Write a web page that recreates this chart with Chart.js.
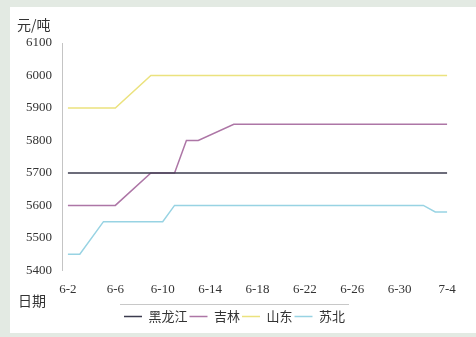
<!DOCTYPE html>
<html>
<head>
<meta charset="utf-8">
<script src="https://cdn.jsdelivr.net/npm/chart.js@4"></script>
<style>
  html, body { margin: 0; padding: 0; background: #e3eae3; }
  #wrap { position: absolute; left: 10px; top: 7px; width: 466px; height: 326px; background: #fff; }
</style>
</head>
<body>
<div id="wrap"><canvas id="price-chart" width="466" height="326"></canvas></div>
<script>
// daily dates, 6-2 .. 7-4
const dates = ['6-2','6-3','6-4','6-5','6-6','6-7','6-8','6-9','6-10','6-11','6-12','6-13','6-14','6-15','6-16','6-17',
    '6-18','6-19','6-20','6-21','6-22','6-23','6-24','6-25','6-26','6-27','6-28','6-29','6-30','7-1','7-2','7-3','7-4'];

// prices (元/吨), null = no quote that day
const heilongjiang = [5700,5700,5700,5700,5700,5700,5700,5700,5700,5700,5700,5700,5700,5700,5700,5700,
    5700,5700,5700,5700,5700,5700,5700,5700,5700,5700,5700,5700,5700,5700,5700,5700,5700];
const jilin = [5600,5600,5600,5600,5600,null,null,5700,5700,5700,5800,5800,null,null,5850,5850,
    5850,5850,5850,5850,5850,5850,5850,5850,5850,5850,5850,5850,5850,5850,5850,5850,5850];
const shandong = [5900,5900,5900,5900,5900,null,null,6000,6000,6000,6000,6000,6000,6000,6000,6000,
    6000,6000,6000,6000,6000,6000,6000,6000,6000,6000,6000,6000,6000,6000,6000,6000,6000];
const subei = [5450,5450,null,5550,5550,5550,5550,5550,5550,5600,5600,5600,5600,5600,5600,5600,
    5600,5600,5600,5600,5600,5600,5600,5600,5600,5600,5600,5600,5600,5600,5600,5580,5580];

const seriesNames = ['黑龙江', '吉林', '山东', '苏北'];
const seriesColors = ['#3b3b4e', '#ad76a6', '#ebe27e', '#98d3e3'];
const seriesData = [heilongjiang, jilin, shandong, subei];

const serif = '"Liberation Serif", "DejaVu Serif", serif';
const cjk = '"Noto Sans CJK SC", sans-serif';

// unit label above the value axis, "日期" under it, and a rule over the legend
const axisNotes = {
    id: 'axisNotes',
    afterDraw(chart) {
        const ctx = chart.ctx;
        const area = chart.chartArea;
        ctx.save();
        ctx.fillStyle = '#333';
        ctx.font = '14px ' + cjk;
        ctx.textBaseline = 'middle';
        ctx.fillText('元/吨', 7, area.top - 18);
        ctx.fillText('日期', 8, area.bottom + 30);
        const boxes = chart.legend.legendHitBoxes;
        if (boxes.length) {
            const l = boxes[0].left - 4;
            const r = boxes[boxes.length - 1].left + boxes[boxes.length - 1].width + 4;
            const t = boxes[0].top - 5.5;
            ctx.strokeStyle = '#c8c8c8';
            ctx.lineWidth = 1;
            ctx.beginPath();
            ctx.moveTo(l, t);
            ctx.lineTo(r, t);
            ctx.stroke();
        }
        ctx.restore();
    }
};

new Chart(document.getElementById('price-chart'), {
    type: 'line',
    data: {
        labels: dates,
        datasets: seriesNames.map((name, i) => ({
            label: name,
            data: seriesData[i],
            borderColor: seriesColors[i],
            backgroundColor: seriesColors[i],
            borderWidth: 1.5,
            pointRadius: 0,
            tension: 0,
            spanGaps: true
        }))
    },
    options: {
        responsive: false,
        animation: false,
        layout: { padding: { left: 6, right: 23, top: 36, bottom: 0 } },
        plugins: {
            legend: {
                position: 'bottom',
                labels: {
                    usePointStyle: true,
                    pointStyle: 'line',
                    pointStyleWidth: 18,
                    boxHeight: 13,
                    padding: 2,
                    color: '#333',
                    font: { family: cjk, size: 13 }
                }
            },
            tooltip: { enabled: false }
        },
        scales: {
            x: {
                offset: true,
                grid: { display: false, drawTicks: false },
                border: { display: false },
                ticks: {
                    autoSkip: false,
                    maxRotation: 0,
                    padding: 11,
                    color: '#333',
                    font: { family: serif, size: 13 },
                    callback: (v, i) => i % 4 === 0 ? dates[i] : null
                }
            },
            y: {
                min: 5400,
                max: 6100,
                grid: { display: false, drawTicks: false },
                border: { display: true, color: '#c4c4c4', width: 1 },
                ticks: {
                    stepSize: 100,
                    padding: 10,
                    color: '#333',
                    font: { family: serif, size: 13 },
                    callback: v => String(v)
                }
            }
        }
    },
    plugins: [axisNotes]
});
</script>
</body>
</html>
